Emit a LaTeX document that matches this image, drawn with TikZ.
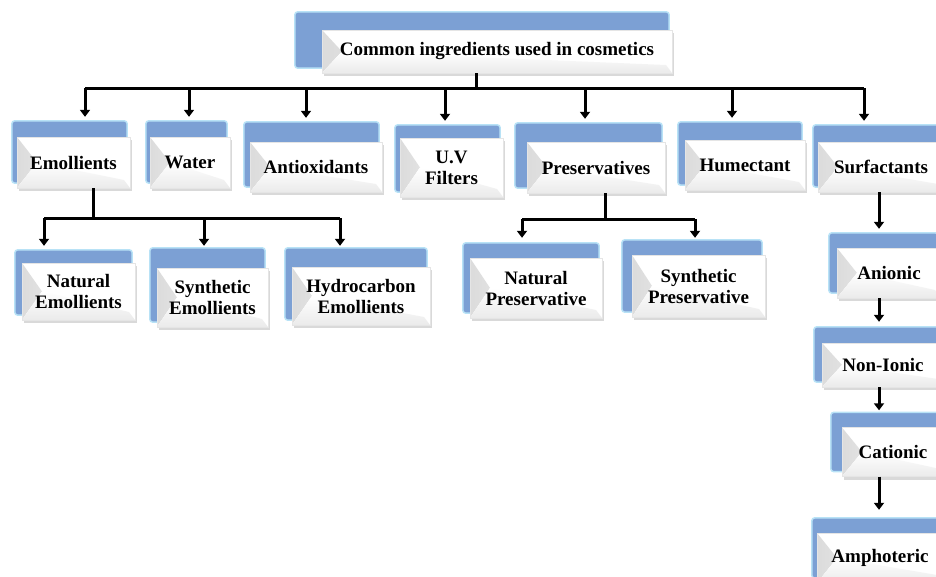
\documentclass[tikz,border=0pt]{standalone}
\usepackage{fontspec}
\setmainfont{Liberation Serif}
\usetikzlibrary{arrows.meta,shadows,backgrounds}
\definecolor{cardblue}{RGB}{124,160,212}
\definecolor{cardedge}{RGB}{184,226,246}
\begin{document}
\begin{tikzpicture}[x=1pt,y=-1pt]

% definitions
\tikzstyle{card} = [rectangle, draw=black!10, fill=white, text centered, align=center, inner sep=2pt, font=\fontsize{19}{21}\selectfont\bfseries, drop shadow={shadow xshift=2pt, shadow yshift=-3pt, opacity=0.3}, path picture={\fill[left color=black!14, right color=white] (path picture bounding box.north west) -- ([xshift=20pt]path picture bounding box.west) -- (path picture bounding box.south west) -- cycle; \fill[top color=white, bottom color=black!8] ([xshift=20pt]path picture bounding box.west) -- (path picture bounding box.south west) -- (path picture bounding box.south east) -- ([xshift=-6pt,yshift=8pt]path picture bounding box.south east) -- cycle;}]

\tikzstyle{panel} = [fill=cardblue, draw=cardedge, line width=1.5pt, rounded corners=3pt]

\tikzstyle{line} = [line width=3pt]

\tikzstyle{arrow} = [-{Triangle[length=7pt,width=10pt]}, line width=3pt]

% the graph
\node (title) [card, minimum width=350pt, minimum height=43pt] at (497,51.5) {Common ingredients used in cosmetics};

\node (emol) [card, minimum width=113pt, minimum height=51pt] at (73.5,162.5) {Emollients};
\node (water) [card, minimum width=80pt, minimum height=51pt] at (190,162.5) {Water};
\node (antiox) [card, minimum width=132pt, minimum height=50pt] at (316,167) {Antioxidants};
\node (uvf) [card, minimum width=103pt, minimum height=59pt] at (451.5,167.5) {U.V\\Filters};
\node (pres) [card, minimum width=138pt, minimum height=51pt] at (596,167.5) {Preservatives};
\node (hum) [card, minimum width=120pt, minimum height=50pt] at (745,165) {Humectant};
\node (surf) [card, minimum width=126pt, minimum height=50pt] at (881,167) {Surfactants};

\node (natemol) [card, minimum width=113pt, minimum height=57pt] at (78.5,291.5) {Natural\\Emollients};
\node (synemol) [card, minimum width=111pt, minimum height=59pt] at (212.5,297.5) {Synthetic\\Emollients};
\node (hydemol) [card, minimum width=138pt, minimum height=58pt] at (361,296) {Hydrocarbon\\Emollients};

\node (natpres) [card, minimum width=132pt, minimum height=60pt] at (536,288) {Natural\\Preservative};
\node (synpres) [card, minimum width=133pt, minimum height=62pt] at (698.5,286) {Synthetic\\Preservative};

\node (anionic) [card, minimum width=104pt, minimum height=50pt] at (889,273) {Anionic};
\node (nonionic) [card, minimum width=122pt, minimum height=44pt] at (883,365) {Non-Ionic};
\node (cationic) [card, minimum width=102pt, minimum height=49pt] at (893,452) {Cationic};
\node (amphoteric) [card, minimum width=126pt, minimum height=50pt] at (880,558) {Amphoteric};

% blue panels behind the cards
\begin{pgfonlayer}{background}
\foreach \n/\dx/\dy in {title/27/18, emol/5/16, water/4/16, antiox/6/20, uvf/5/13, pres/12/19, hum/7/18, surf/5/17, natemol/7/13, synemol/7/20, hydemol/7/19, natpres/7/15, synpres/10/15, anionic/8/15, nonionic/8/16, cationic/11/15, amphoteric/5/15}
  \draw[panel] ([xshift=-\dx pt, yshift=\dy pt]\n.north west) rectangle ([xshift=-3pt, yshift=5pt]\n.south east);
\end{pgfonlayer}

% top level
\coordinate (bus) at (476,88);
\coordinate (b1) at (85,88);
\coordinate (b2) at (189,88);
\coordinate (b3) at (306,88);
\coordinate (b4) at (445,88);
\coordinate (b5) at (585,88);
\coordinate (b6) at (732,88);
\coordinate (b7) at (864,88);

\draw [line] (title.south -| bus) -- (bus);
\draw [line] (b1) -- (b7);
\draw [arrow, shorten >=20pt] (b1) -- (b1 |- emol.north);
\draw [arrow, shorten >=20pt] (b2) -- (b2 |- water.north);
\draw [arrow, shorten >=24pt] (b3) -- (b3 |- antiox.north);
\draw [arrow, shorten >=17pt] (b4) -- (b4 |- uvf.north);
\draw [arrow, shorten >=23pt] (b5) -- (b5 |- pres.north);
\draw [arrow, shorten >=22pt] (b6) -- (b6 |- hum.north);
\draw [arrow, shorten >=21pt] (b7) -- (b7 |- surf.north);

% emollients
\coordinate (e0) at (93,218);
\coordinate (e1) at (44,218);
\coordinate (e2) at (204,218);
\coordinate (e3) at (340,218);

\draw [line] (emol.south -| e0) -- (e0);
\draw [line] (e1) -- (e3);
\draw [arrow, shorten >=17pt] (e1) -- (e1 |- natemol.north);
\draw [arrow, shorten >=22pt] (e2) -- (e2 |- synemol.north);
\draw [arrow, shorten >=21pt] (e3) -- (e3 |- hydemol.north);

% preservatives
\coordinate (p0) at (605,219);
\coordinate (p1) at (522,219);
\coordinate (p2) at (695,219);

\draw [line] (pres.south -| p0) -- (p0);
\draw [line] (p1) -- (p2);
\draw [arrow, shorten >=20pt] (p1) -- (p1 |- natpres.north);
\draw [arrow, shorten >=17pt] (p2) -- (p2 |- synpres.north);

% surfactants
\coordinate (s0) at (879,0);
\draw [arrow, shorten >=19pt] (surf.south -| s0) -- (anionic.north -| s0);
\draw [arrow, shorten >=21pt] (anionic.south -| s0) -- (nonionic.north -| s0);
\draw [arrow, shorten >=17pt] (nonionic.south -| s0) -- (cationic.north -| s0);
\draw [arrow, shorten >=23pt] (cationic.south -| s0) -- (amphoteric.north -| s0);

\pgfresetboundingbox
\useasboundingbox (0,0) rectangle (936,576);

\end{tikzpicture}
\end{document}
